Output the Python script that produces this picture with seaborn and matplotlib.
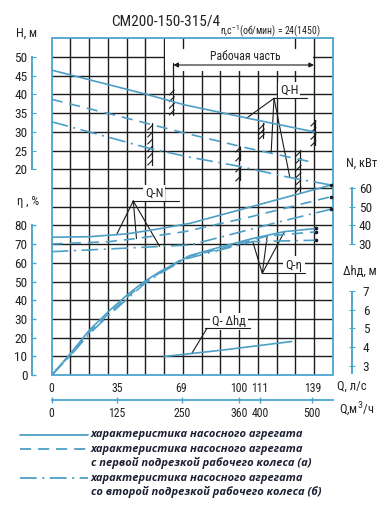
import numpy as np
import matplotlib
matplotlib.use("Agg")
import matplotlib.pyplot as plt
import seaborn as sns
from matplotlib.patches import Rectangle
from matplotlib.lines import Line2D

# ---------------- data ----------------
q_ls_ticks = [0, 35, 69, 100, 111, 139]
q_m3h_ticks = [0, 125, 250, 360, 400, 500]
h_ticks = [20, 25, 30, 35, 40, 45, 50]
eta_ticks = [0, 10, 20, 30, 40, 50, 60, 70, 80]
n_ticks = [30, 40, 50, 60]
dh_ticks = [3, 4, 5, 6, 7]

# Q-H
q_h_full = [0, 25, 50, 71, 106, 140]
h_full = [46.5, 43.3, 40.1, 37.2, 33.5, 30.0]
q_h_a = [0, 35, 70, 105, 140]
h_a = [38.7, 34.3, 29.8, 25.6, 21.8]
q_h_b = [0, 25, 52, 74, 100, 127, 149]
h_b = [32.7, 29.3, 25.6, 23.2, 20.8, 17.8, 15.8]

# Q-N
q_n_full = [0, 20, 40, 56, 74, 106, 149]
n_full = [33.7, 34.0, 35.5, 38.0, 41.2, 49.9, 61.6]
q_n_a = [0, 30, 45, 71, 106, 149]
n_a = [30.1, 31.3, 33.0, 36.7, 44.6, 55.4]
q_n_b = [0, 40, 74, 124, 149]
n_b = [26.0, 27.9, 29.6, 42.6, 48.7]

# Q-eta
q_eta_full = [0, 10, 20, 31, 40, 49, 58, 66, 74, 90, 107, 124, 141]
eta_full = [0, 11.6, 24, 34.7, 42.7, 49.8, 55.5, 59.7, 64, 68.5, 73, 76.7, 78.4]
q_eta_a = [0, 10, 20, 31, 40, 49, 58, 71, 90, 115, 141]
eta_a = [0, 11, 23, 33.5, 41.5, 49, 55, 63, 67.5, 74.4, 76.6]
q_eta_b = [0, 10, 20, 31, 40, 49, 58, 71, 90, 107, 141]
eta_b = [0, 10.5, 22, 32.5, 40.5, 48.5, 54.5, 62, 67, 71.4, 72.1]

# Q-dh
q_dh = [60, 90, 128]
dh = [3.5, 3.83, 4.3]

title = "СМ200-150-315/4"
subtitle = "n,c$^{-1}$(об/мин) = 24(1450)"
legend_labels = ["характеристика насосного агрегата",
                 "характеристика насосного агрегата\nс первой подрезкой рабочего колеса (а)",
                 "характеристика насосного агрегата\nсо второй подрезкой рабочего колеса (б)"]

# ---------------- style ----------------
sns.set_style("white")
plt.rcParams["font.family"] = ["Roboto Condensed", "Liberation Sans Narrow",
                               "DejaVu Sans Condensed", "Roboto", "DejaVu Sans"]
plt.rcParams["lines.scale_dashes"] = False
plt.rcParams["mathtext.fontset"] = "custom"
plt.rcParams["mathtext.rm"] = "Roboto"

BLUE = "#4aa6cf"
CURVE = "#4d9fc6"
GRID = "#1c1c1c"
TXT = "#222222"
DASH = (0, (8, 5))
DASHDOT = (0, (12, 4, 1.5, 4))
TICK_FS = 9.5
XTICK_FS = 8.5
LAB_FS = 9

W, HF = 387, 509
X0, X1, Y0, Y1 = 51.7, 333.0, 38.3, 375.2

fig = plt.figure(figsize=(W / 100, HF / 100), dpi=100, facecolor="white")
ax = fig.add_axes([X0 / W, 1 - Y1 / HF, (X1 - X0) / W, (Y1 - Y0) / HF])
ax.set_xlim(0, 150)
ax.set_ylim(0, 180)

H_LIM = (-35, 55)
N_LIM = (-40, 140)
D_LIM = (2.5, 20.5)


def P(x, y):
    """figure pixel -> main axes data"""
    return ((x - X0) / (X1 - X0) * 150, (Y1 - y) / (Y1 - Y0) * 180)


def U(v, lim):
    return (v - lim[0]) / (lim[1] - lim[0]) * 180


def F(x, y):
    return (x / W, 1 - y / HF)


# grid
for i in range(1, 15):
    ax.axvline(i * 10, color=GRID, lw=1.0, zorder=1)
for j in range(1, 18):
    ax.axhline(j * 10, color=GRID, lw=1.0, zorder=1)

# white area for "Рабочая часть"
ax.add_patch(Rectangle((60.5, 162.5), 79.0, 18.5, facecolor="white", edgecolor="none", zorder=1.5))
for qx in (70, 130):
    ax.plot([qx, qx], [180, P(0, 48.3)[1]], color=GRID, lw=1.0, zorder=1.6)

# frame
ax.add_patch(Rectangle((0, 0), 1, 1, transform=ax.transAxes, fill=False, edgecolor=BLUE,
                       lw=1.3, zorder=6, clip_on=False))
for s in ("top", "right", "bottom"):
    ax.spines[s].set_visible(False)
ax.spines["left"].set_position(("outward", (X0 - 32.3) * 0.72))
ax.spines["left"].set_bounds(0, 80)
ax.spines["left"].set_color(BLUE)
ax.spines["left"].set_linewidth(1.4)
ax.set_yticks(eta_ticks)
ax.tick_params(axis="y", direction="in", length=3, color=BLUE, width=1, labelsize=TICK_FS,
               pad=3.5, labelcolor=TXT)
ax.set_xticks(q_ls_ticks)
ax.set_xticklabels([str(t) for t in q_ls_ticks])
ax.tick_params(axis="x", direction="inout", length=5, color=GRID, width=0.8, labelsize=XTICK_FS,
               pad=2.5, labelcolor=TXT)

# secondary Q axis (m3/h)
sec = ax.secondary_xaxis(-25 / (Y1 - Y0), functions=(lambda q: q * 3.6, lambda m: m / 3.6))
sec.set_xticks(q_m3h_ticks)
sec.set_xticklabels([str(t) for t in q_m3h_ticks])
sec.spines["bottom"].set_color(BLUE)
sec.spines["bottom"].set_linewidth(1.3)
sec.tick_params(direction="inout", length=4, color=BLUE, width=1, labelsize=XTICK_FS, pad=3,
                labelcolor=TXT)

# H, N, dh axes
axH = ax.twinx()
axH.set_ylim(*H_LIM)
axN = ax.twinx()
axN.set_ylim(*N_LIM)
axD = ax.twinx()
axD.set_ylim(*D_LIM)
for a in (axH, axN, axD):
    for s in a.spines.values():
        s.set_visible(False)

axH.yaxis.tick_left()
axH.yaxis.set_label_position("left")
axH.spines["left"].set_visible(True)
axH.spines["left"].set_position(("outward", (X0 - 32.3) * 0.72))
axH.spines["left"].set_bounds(20, 50)
axH.spines["left"].set_color(BLUE)
axH.spines["left"].set_linewidth(1.4)
axH.set_yticks(h_ticks)
axH.tick_params(axis="y", left=True, right=False, labelleft=True, labelright=False,
                direction="in", length=3, color=BLUE, labelsize=TICK_FS, pad=3.5, labelcolor=TXT)

for a, bnd, ticks, pad in ((axN, (30, 60), n_ticks, 3.0), (axD, (2.62, 6.89), dh_ticks, 6.0)):
    a.spines["right"].set_visible(True)
    a.spines["right"].set_position(("outward", (351.7 - X1) * 0.72))
    a.spines["right"].set_bounds(*bnd)
    a.spines["right"].set_color(BLUE)
    a.spines["right"].set_linewidth(1.4)
    a.set_yticks(ticks)
    a.tick_params(axis="y", direction="inout", length=4, color=BLUE, labelsize=TICK_FS, pad=pad,
                  labelcolor=TXT)


def curve(a, q, v, style, dot=False):
    sns.lineplot(x=q, y=v, ax=a, color=CURVE, linewidth=1.2, linestyle=style,
                 estimator=None, sort=False, zorder=4)
    if dot:
        a.plot(q[-1], v[-1], "o", ms=1.6, color="#1a1a2e", zorder=5)
    a.set_xlabel("")
    a.set_ylabel("")


curve(axH, q_h_full, h_full, "-")
curve(axH, q_h_a, h_a, DASH)
curve(axH, q_h_b, h_b, DASHDOT)
curve(axN, q_n_full, n_full, "-", True)
curve(axN, q_n_a, n_a, DASH, True)
curve(axN, q_n_b, n_b, DASHDOT, True)
curve(ax, q_eta_full, eta_full, "-", True)
curve(ax, q_eta_a, eta_a, DASH, True)
curve(ax, q_eta_b, eta_b, DASHDOT, True)
curve(axD, q_dh, dh, "-")
for a, lim in ((axH, H_LIM), (axN, N_LIM), (axD, D_LIM)):
    a.set_ylim(*lim)
    a.set_xlim(0, 150)
ax.set_ylim(0, 180)
ax.set_xlim(0, 150)
ax.set_xlabel("")
ax.set_ylabel("")
axH.set_yticks(h_ticks)
axN.set_yticks(n_ticks)
axD.set_yticks(dh_ticks)


# ---------- working-range boundaries with hatching ----------
def hatch(xp, yt, yb, y_hatch, n):
    q, ut = P(xp, yt)
    _, ub = P(xp, yb)
    ax.plot([q, q], [ub, ut], color=GRID, lw=0.9, zorder=3)
    for yy in np.linspace(y_hatch[0], y_hatch[1], n):
        a1 = P(xp - 4, yy + 3)
        a2 = P(xp + 1, yy - 2)
        ax.plot([a1[0], a2[0]], [a1[1], a2[1]], color=GRID, lw=0.8, zorder=3)


hatch(173.3, 63, 115, (92, 112), 4)
hatch(151.7, 123, 165, (127, 162), 6)
hatch(314.9, 120, 145, (123, 143), 4)
hatch(263.3, 123, 138, (126, 136), 3)
hatch(239.7, 147, 160, (149, 158), 2)
hatch(239.7, 167, 180, (169, 178), 2)
hatch(300.0, 150, 192, (153, 189), 6)

# arrow "Рабочая часть"
a_l = P(173.3, 65)
a_r = P(314.0, 65)
ax.annotate("", xy=a_r, xytext=a_l,
            arrowprops=dict(arrowstyle="<|-|>", color=GRID, lw=0.8, mutation_scale=7,
                            shrinkA=0, shrinkB=0), zorder=3)
ax.text(*P(245, 56.5), "Рабочая часть", ha="center", va="center", fontsize=8.5, color=TXT, zorder=3)


# ---------- curve labels with leaders ----------
def leader(apex, ends, under, label, lpos, fs=9):
    ax.plot([P(*under[0])[0], P(*under[1])[0]], [P(*under[0])[1], P(*under[1])[1]],
            color=GRID, lw=0.8, zorder=3)
    ap = P(*apex)
    for e in ends:
        ax.plot([ap[0], e[0]], [ap[1], e[1]], color=GRID, lw=0.8, zorder=3)
    ax.text(*P(*lpos), label, ha="center", va="center", fontsize=fs, color=TXT, zorder=2,
            bbox=dict(facecolor="white", edgecolor="none", pad=1.5))


ends_h = [(104, U(np.interp(104, q_h_full, h_full), H_LIM)),
          (117, U(np.interp(117, q_h_a, h_a), H_LIM)),
          (127, U(np.interp(127, q_h_b, h_b), H_LIM))]
leader((274, 98.3), ends_h, ((274, 98.3), (307, 98.3)), "Q-H", (289, 90.5))

ends_n = [(34.6, U(np.interp(34.6, q_n_full, n_full), N_LIM)),
          (45.2, U(np.interp(45.2, q_n_a, n_a), N_LIM)),
          (57.6, U(np.interp(57.6, q_n_b, n_b), N_LIM))]
leader((133.3, 201.0), ends_n, ((132, 200.7), (178.5, 200.7)), "Q-N", (154, 193.5))

ends_e = [(107.2, np.interp(107.2, q_eta_b, eta_b)),
          (114.9, np.interp(114.9, q_eta_a, eta_a)),
          (124.1, np.interp(124.1, q_eta_full, eta_full))]
leader((262.3, 273.3), ends_e, ((262, 273.3), (305, 273.3)), "Q-η", (294, 265))

ends_d = [(74.7, U(np.interp(74.7, q_dh, dh), D_LIM))]
leader((207, 328.3), ends_d, ((205, 328.3), (250, 328.3)), "Q- Δhд", (229, 321.5))

# ---------- texts ----------
fig.text(*F(165.5, 22), title, ha="center", va="center", fontsize=11, color=TXT)
fig.text(*F(270.5, 31), subtitle, ha="center", va="center", fontsize=7, color=TXT)
fig.text(*F(27, 33), "H, м", ha="center", va="center", fontsize=LAB_FS, color=TXT)
fig.text(*F(28, 201), "η , %", ha="center", va="center", fontsize=LAB_FS, color=TXT)
fig.text(*F(362, 163), "N, кВт", ha="center", va="center", fontsize=LAB_FS, color=TXT)
fig.text(*F(360, 271), "Δhд, м", ha="center", va="center", fontsize=LAB_FS, color=TXT)
fig.text(*F(352, 386.5), "Q, л/с", ha="center", va="center", fontsize=LAB_FS, color=TXT)
fig.text(*F(357, 410), "Q,м$^3$/ч", ha="center", va="center", fontsize=LAB_FS, color=TXT)

# ---------- legend ----------
leg_styles = ["-", DASH, DASHDOT]
leg_y = [435, 449.3, 478.3]
for lab, st, yy in zip(legend_labels, leg_styles, leg_y):
    x_a, y_a = F(20, yy)
    x_b, _ = F(88, yy)
    fig.add_artist(Line2D([x_a, x_b], [y_a, y_a], color=CURVE, lw=1.3, linestyle=st,
                          transform=fig.transFigure))
    for k, line in enumerate(lab.split("\n")):
        fig.text(*F(90.7, yy + k * 13.4), line, ha="left", va="center", fontsize=8,
                 fontweight="bold", fontstyle="italic", color="#1d1f33",
                 family=["Open Sans", "DejaVu Sans"])

fig.savefig("out.png", dpi=100, facecolor="white")
